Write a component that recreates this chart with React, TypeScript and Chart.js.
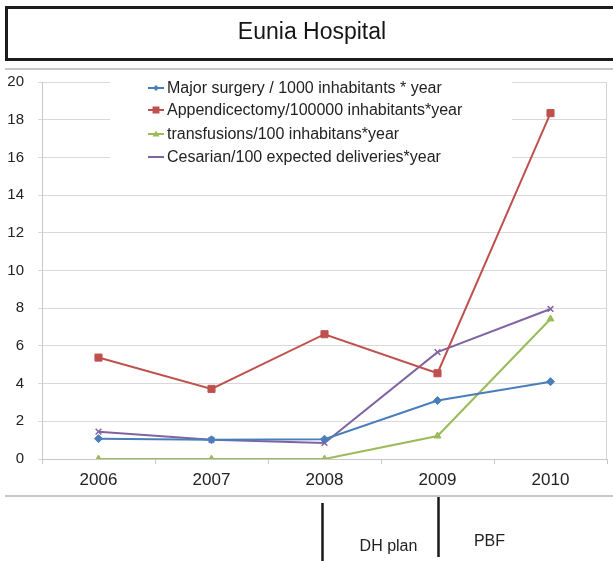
import React, { useEffect, useRef } from "react";
import { Chart, registerables } from "chart.js";

Chart.register(...registerables);

const TITLE = "Eunia Hospital";
const YEARS = ["2006", "2007", "2008", "2009", "2010"];
const MAJOR_SURGERY = [1.08, 1.02, 1.05, 3.1, 4.1];
const APPENDICECTOMY = [5.38, 3.72, 6.62, 4.55, 18.35];
const TRANSFUSIONS = [0, 0, 0, 1.22, 7.43];
const CESARIAN = [1.45, 1.02, 0.85, 5.67, 7.96];
const SERIES_LABELS = [
  "Major surgery / 1000 inhabitants * year",
  "Appendicectomy/100000 inhabitants*year",
  "transfusions/100 inhabitans*year",
  "Cesarian/100 expected deliveries*year",
];
const Y_MIN = 0;
const Y_MAX = 20;
const Y_STEP = 2;
const PHASE_LABELS = ["DH plan", "PBF"];
const PHASE_START_INDEX = [2, 3];

const FONT = "'Liberation Sans', Arial, sans-serif";

const COLORS = ["#4a7ebb", "#c0504d", "#9bbb59", "#8064a2"];
const POINT_STYLES = ["rectRot", "rect", "triangle", "crossRot"];

function drawMarker(ctx: CanvasRenderingContext2D, style: string, x: number, y: number, color: string) {
  ctx.save();
  ctx.fillStyle = color;
  ctx.strokeStyle = color;
  ctx.beginPath();
  if (style === "rectRot") {
    ctx.moveTo(x, y - 3);
    ctx.lineTo(x + 3, y);
    ctx.lineTo(x, y + 3);
    ctx.lineTo(x - 3, y);
    ctx.closePath();
    ctx.fill();
  } else if (style === "rect") {
    ctx.rect(x - 3.5, y - 3.5, 7, 7);
    ctx.fill();
  } else if (style === "triangle") {
    ctx.moveTo(x, y - 3.5);
    ctx.lineTo(x + 3.5, y + 2.5);
    ctx.lineTo(x - 3.5, y + 2.5);
    ctx.closePath();
    ctx.fill();
  }
  ctx.restore();
}

const decorations = {
  id: "decorations",
  beforeDraw(chart: any) {
    const ctx = chart.ctx as CanvasRenderingContext2D;
    ctx.save();
    ctx.fillStyle = "#ffffff";
    ctx.fillRect(0, 0, chart.width, chart.height);
    // title frame
    ctx.strokeStyle = "#1c1c1c";
    ctx.lineWidth = 3;
    ctx.strokeRect(6.5, 7.5, chart.width + 10, 52);
    // title text
    ctx.fillStyle = "#151515";
    ctx.font = `23px ${FONT}`;
    ctx.textAlign = "center";
    ctx.textBaseline = "middle";
    ctx.fillText(TITLE, 312, 33);
    // chart frame (top & bottom)
    ctx.fillStyle = "#c8c8c8";
    ctx.fillRect(5, 68, chart.width - 5, 2);
    ctx.fillRect(5, 495, chart.width - 5, 2);
    ctx.restore();
  },
  beforeDatasetsDraw(chart: any) {
    const ctx = chart.ctx as CanvasRenderingContext2D;
    const area = chart.chartArea;
    ctx.save();
    // plot area right border
    ctx.strokeStyle = "#d4d4d4";
    ctx.lineWidth = 1;
    ctx.beginPath();
    ctx.moveTo(Math.round(area.right) - 0.5, area.top);
    ctx.lineTo(Math.round(area.right) - 0.5, area.bottom);
    ctx.stroke();
    // legend
    ctx.fillStyle = "#ffffff";
    ctx.fillRect(110, 74, 402, 104);
    const rows = [88, 110, 134, 157];
    chart.data.datasets.forEach((ds: any, i: number) => {
      const y = rows[i];
      ctx.strokeStyle = ds.borderColor;
      ctx.lineWidth = 2;
      ctx.beginPath();
      ctx.moveTo(148, y);
      ctx.lineTo(164, y);
      ctx.stroke();
      drawMarker(ctx, ds.pointStyle, 156, y, ds.borderColor);
      ctx.fillStyle = "#222222";
      ctx.font = `16px ${FONT}`;
      ctx.textAlign = "left";
      ctx.textBaseline = "middle";
      ctx.fillText(ds.label, 167, y + 1);
    });
    ctx.restore();
  },
  afterDraw(chart: any) {
    const ctx = chart.ctx as CanvasRenderingContext2D;
    const xs = chart.scales.x;
    ctx.save();
    ctx.strokeStyle = "#1a1a1a";
    ctx.lineWidth = 2.5;
    const x1 = xs.getPixelForValue(PHASE_START_INDEX[0]) - 2;
    const x2 = xs.getPixelForValue(PHASE_START_INDEX[1]) + 1;
    ctx.beginPath();
    ctx.moveTo(x1, 503);
    ctx.lineTo(x1, 561);
    ctx.moveTo(x2, 497);
    ctx.lineTo(x2, 557);
    ctx.stroke();
    ctx.fillStyle = "#222222";
    ctx.font = `16px ${FONT}`;
    ctx.textAlign = "center";
    ctx.textBaseline = "middle";
    ctx.fillText(PHASE_LABELS[0], (x1 + x2) / 2 + 8, 547);
    ctx.fillText(PHASE_LABELS[1], x2 + 51, 542);
    ctx.restore();
  },
};

export default function App() {
  const ref = useRef<HTMLCanvasElement>(null);
  useEffect(() => {
    if (!ref.current) return;
    const series = [MAJOR_SURGERY, APPENDICECTOMY, TRANSFUSIONS, CESARIAN];
    const chart = new Chart(ref.current, {
      type: "line",
      data: {
        labels: YEARS,
        datasets: series.map((d, i) => ({
          label: SERIES_LABELS[i],
          data: d,
          borderColor: COLORS[i],
          backgroundColor: COLORS[i],
          borderWidth: 2,
          pointStyle: POINT_STYLES[i] as any,
          pointRadius: i === 1 ? 5 : 4,
          pointBorderWidth: i === 3 ? 1.5 : 1,
          tension: 0,
          fill: false,
        })),
      },
      options: {
        responsive: false,
        animation: false,
        devicePixelRatio: 1,
        layout: { padding: { left: 0, right: 5, top: 82, bottom: 62 } },
        plugins: {
          legend: { display: false },
          tooltip: { enabled: false },
          title: { display: false },
        },
        scales: {
          x: {
            offset: true,
            grid: {
              offset: true,
              drawOnChartArea: false,
              drawTicks: true,
              tickLength: 5,
              color: "#c8c8c8",
            },
            border: { color: "#c8c8c8" },
            ticks: {
              color: "#222222",
              font: { family: FONT, size: 17 },
              padding: 6,
              maxRotation: 0,
            },
            afterFit: (s: any) => {
              s.height = 40;
            },
          },
          y: {
            min: Y_MIN,
            max: Y_MAX,
            grid: { color: "#d9d9d9", tickLength: 4, drawTicks: true },
            border: { color: "#c8c8c8" },
            ticks: {
              stepSize: Y_STEP,
              color: "#222222",
              font: { family: FONT, size: 15 },
              padding: 14,
            },
            afterFit: (s: any) => {
              s.width = 42;
            },
          },
        },
      },
      plugins: [decorations],
    });
    return () => chart.destroy();
  }, []);
  return (
    <div style={{ position: "absolute", left: 0, top: 0, width: 613, height: 561 }}>
      <canvas ref={ref} width={613} height={561} />
    </div>
  );
}
